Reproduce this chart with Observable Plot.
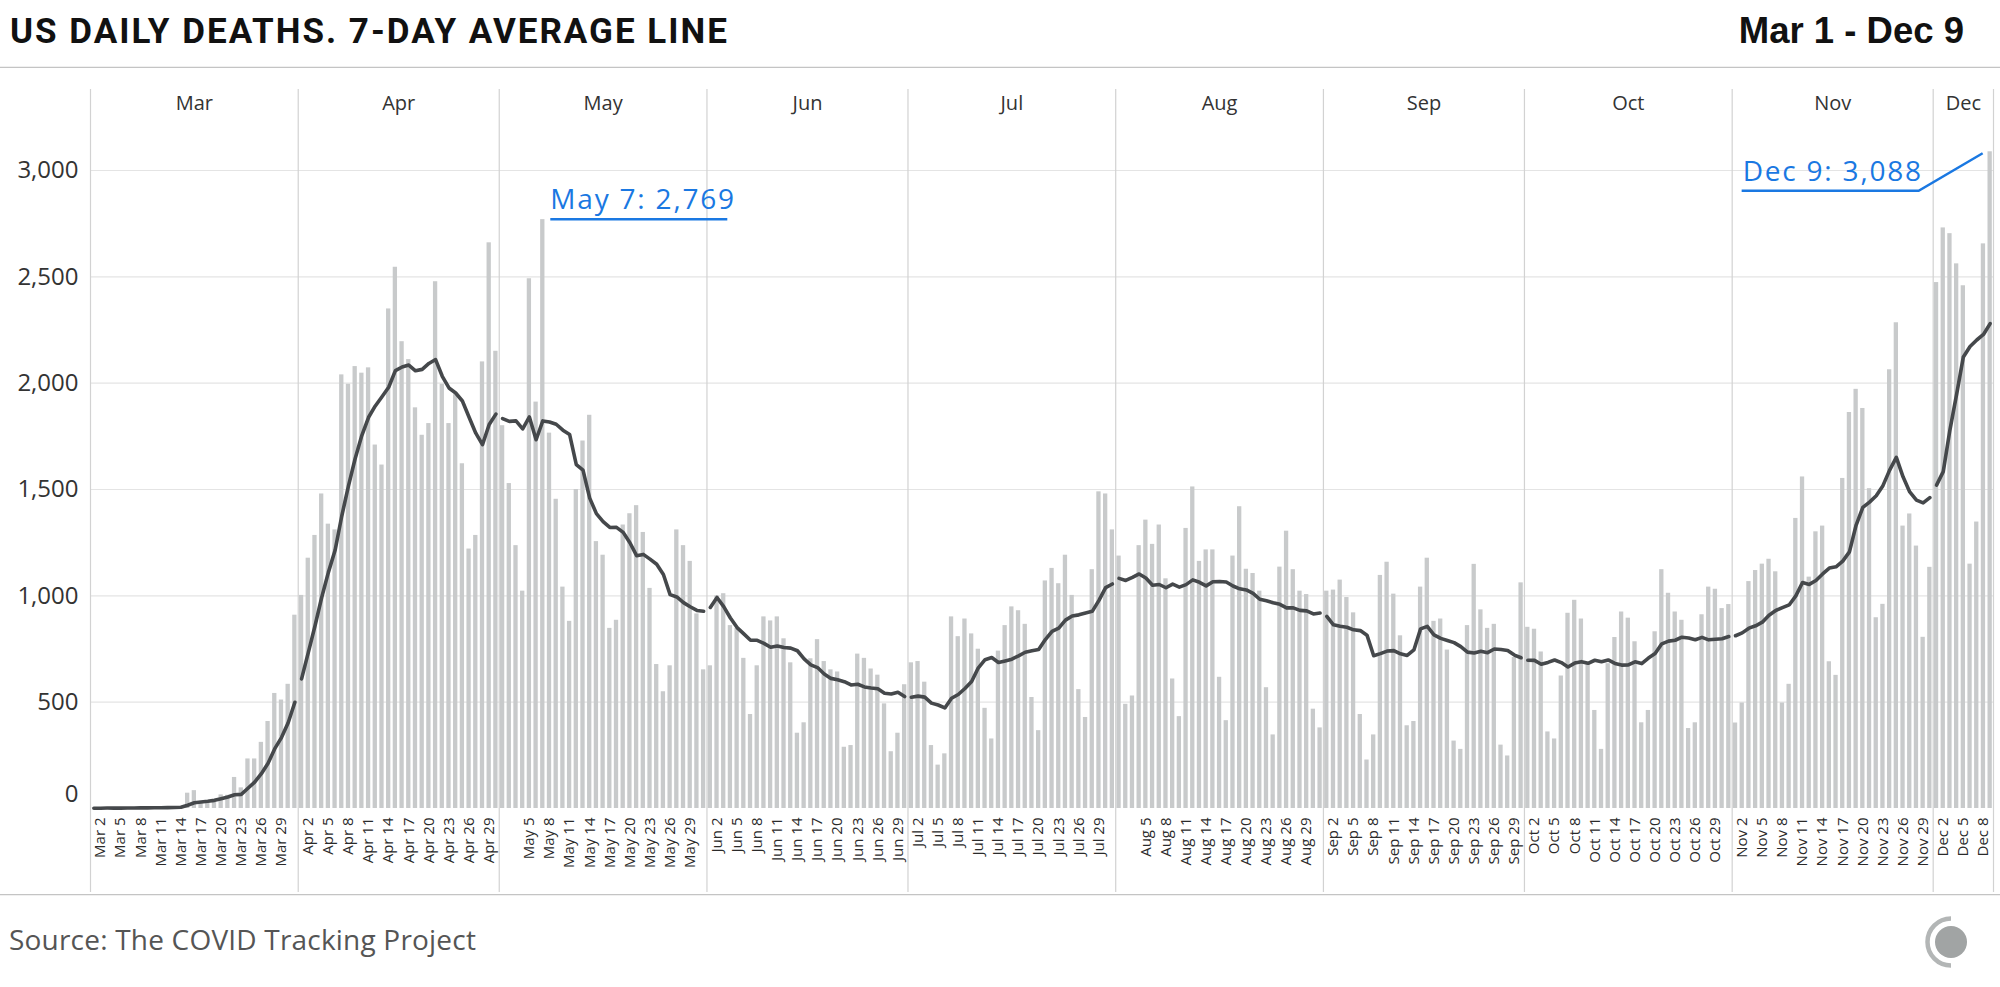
<!DOCTYPE html>
<html>
<head>
<meta charset="utf-8">
<script src="https://cdn.jsdelivr.net/npm/d3@7"></script>
<script src="https://cdn.jsdelivr.net/npm/@observablehq/plot@0.6"></script>
<style>
  html, body { margin: 0; padding: 0; background: #fff; }
  #wrap { position: relative; width: 2000px; height: 987px; overflow: hidden; background: #fff; }
  svg { display: block; }
</style>
</head>
<body>
<div id="wrap">
  <svg id="header" width="2000" height="68">
    <text x="10" y="43" font-family="Roboto" font-weight="700" font-size="35" fill="#111" letter-spacing="2">US DAILY DEATHS. 7-DAY AVERAGE LINE</text>
    <text x="1964" y="43" text-anchor="end" font-family="Liberation Sans, Arial" font-weight="700" font-size="36.5" fill="#111">Mar 1 - Dec 9</text>
    <line x1="0" x2="2000" y1="67.5" y2="67.5" stroke="#c4c4c4" stroke-width="1.5"/>
  </svg>
  <div id="chart"></div>
  <svg id="footer" width="2000" height="93">
    <line x1="0" x2="2000" y1="0.5" y2="0.5" stroke="#c4c4c4" stroke-width="1.5"/>
    <text x="9" y="56" font-family="Open Sans" font-size="28" fill="#555" letter-spacing="0.2">Source: The COVID Tracking Project</text>
    <path d="M1951,24.5 A23.5,23.5 0 0 0 1951,71.5" fill="none" stroke="#b3b6b6" stroke-width="4.5"/>
    <circle cx="1951" cy="48" r="16" fill="#a1a4a4"/>
  </svg>
</div>
<script>
// ---- Data: US daily deaths (COVID Tracking Project), 2020 ----
const monthNames = ["Mar", "Apr", "May", "Jun", "Jul", "Aug", "Sep", "Oct", "Nov", "Dec"];

const marDeaths = [1, 2, 3, 2, 2, 3, 3, 4, 4, 5, 6, 5, 8, 9, 72, 84, 30, 30, 35, 64, 62, 146, 97, 233, 233, 311, 409, 541, 510, 584, 909];
const aprDeaths = [1002, 1177, 1284, 1479, 1337, 1310, 2039, 1995, 2078, 2047, 2072, 1709, 1615, 2349, 2545, 2195, 2111, 1884, 1755, 1810, 2477, 1995, 1810, 1946, 1621, 1220, 1284, 2100, 2660, 2150];
const mayDeaths = [1800, 1528, 1236, 1022, 2491, 1911, 2769, 1765, 1454, 1041, 880, 1500, 1728, 1849, 1255, 1191, 847, 885, 1333, 1386, 1424, 1298, 1035, 677, 549, 671, 1310, 1236, 1162, 915, 652];
const junDeaths = [671, 1000, 1010, 860, 847, 706, 442, 671, 901, 882, 901, 798, 685, 354, 403, 704, 794, 691, 652, 642, 288, 296, 726, 706, 656, 627, 492, 267, 354, 582];
const julDeaths = [685, 691, 594, 296, 204, 257, 901, 808, 891, 821, 749, 471, 327, 740, 860, 948, 930, 866, 522, 366, 1070, 1129, 1057, 1191, 1002, 559, 428, 1123, 1489, 1479, 1310];
const augDeaths = [1187, 490, 529, 1236, 1356, 1242, 1333, 1080, 609, 432, 1317, 1512, 1162, 1216, 1216, 617, 413, 1187, 1419, 1125, 1105, 1022, 568, 346, 1135, 1304, 1123, 1022, 1006, 467, 379];
const sepDeaths = [1022, 1027, 1074, 992, 920, 442, 228, 346, 1096, 1158, 1008, 812, 389, 409, 1041, 1177, 880, 891, 745, 317, 278, 860, 1148, 934, 847, 866, 298, 247, 710, 1061];
const octDeaths = [852, 843, 736, 360, 327, 623, 918, 979, 891, 681, 461, 278, 681, 804, 924, 895, 784, 403, 461, 831, 1123, 1012, 924, 885, 376, 403, 911, 1041, 1031, 940, 959];
const novDeaths = [402, 496, 1067, 1119, 1149, 1172, 1113, 496, 584, 1364, 1559, 1088, 1301, 1328, 690, 626, 1552, 1862, 1971, 1881, 1504, 897, 960, 2063, 2284, 1328, 1385, 1234, 805, 1134];
const decDeaths = [2473, 2730, 2703, 2561, 2458, 1149, 1347, 2655, 3088];

const yTicks = [0, 500, 1000, 1500, 2000, 2500, 3000];

const tickLabels = [
  "Mar 2", "Mar 5", "Mar 8", "Mar 11", "Mar 14", "Mar 17", "Mar 20", "Mar 23", "Mar 26", "Mar 29",
  "Apr 2", "Apr 5", "Apr 8", "Apr 11", "Apr 14", "Apr 17", "Apr 20", "Apr 23", "Apr 26", "Apr 29",
  "May 5", "May 8", "May 11", "May 14", "May 17", "May 20", "May 23", "May 26", "May 29",
  "Jun 2", "Jun 5", "Jun 8", "Jun 11", "Jun 14", "Jun 17", "Jun 20", "Jun 23", "Jun 26", "Jun 29",
  "Jul 2", "Jul 5", "Jul 8", "Jul 11", "Jul 14", "Jul 17", "Jul 20", "Jul 23", "Jul 26", "Jul 29",
  "Aug 5", "Aug 8", "Aug 11", "Aug 14", "Aug 17", "Aug 20", "Aug 23", "Aug 26", "Aug 29",
  "Sep 2", "Sep 5", "Sep 8", "Sep 11", "Sep 14", "Sep 17", "Sep 20", "Sep 23", "Sep 26", "Sep 29",
  "Oct 2", "Oct 5", "Oct 8", "Oct 11", "Oct 14", "Oct 17", "Oct 20", "Oct 23", "Oct 26", "Oct 29",
  "Nov 2", "Nov 5", "Nov 8", "Nov 11", "Nov 14", "Nov 17", "Nov 20", "Nov 23", "Nov 26", "Nov 29",
  "Dec 2", "Dec 5", "Dec 8"
];

const annotationDays = ["May 7", "Dec 9"];
const annotationLabels = ["May 7: 2,769", "Dec 9: 3,088"];

// ---- Build table ----
const monthArrays = [marDeaths, aprDeaths, mayDeaths, junDeaths, julDeaths, augDeaths, sepDeaths, octDeaths, novDeaths, decDeaths];
const rows = [];
monthArrays.forEach((vals, mi) => {
  vals.forEach((v, i) => {
    const d = new Date(Date.UTC(2020, 2 + mi, i + 1));
    rows.push({date: d, next: d3.utcDay.offset(d, 1), noon: d3.utcHour.offset(d, 12), month: monthNames[mi], value: v});
  });
});
// trailing 7-day average of the daily values
rows.forEach((r, i) => { r.avg = d3.mean(rows.slice(Math.max(0, i - 6), i + 1), d => d.value); });

const parseDay = d3.utcParse("%b %d %Y");
const noonOf = s => d3.utcHour.offset(parseDay(s + " 2020"), 12);

const monthInfo = monthNames.map((m, mi) => {
  const start = new Date(Date.UTC(2020, 2 + mi, 1));
  const end = mi < monthNames.length - 1 ? new Date(Date.UTC(2020, 3 + mi, 1)) : d3.utcDay.offset(start, decDeaths.length);
  return {name: m, start, end, mid: new Date((+start + +end) / 2)};
});
const boundaries = [monthInfo[0].start, ...monthInfo.map(d => d.end)];
const ticks = tickLabels.map(l => ({label: l, x: noonOf(l)}));
const annos = annotationDays.map((d, i) => {
  const r = rows.find(r => +r.noon === +noonOf(d));
  return {x: r.noon, y: r.value, label: annotationLabels[i], leader: i === 1};
});

const blue = "#1a78e2";
function annotationMark(index, scales) {
  const g = d3.create("svg:g").attr("text-anchor", "start");
  for (const a of annos) {
    const bx = scales.x(a.x), by = scales.y(a.y);
    let tx, uy;
    if (!a.leader) {
      uy = by; tx = bx + 8;
      g.append("line").attr("x1", bx + 8).attr("x2", bx + 185).attr("y1", uy).attr("y2", uy)
        .attr("stroke", blue).attr("stroke-width", 2.5);
    } else {
      uy = by + 39.5; tx = bx - 247;
      g.append("polyline").attr("points", `${bx - 248},${uy} ${bx - 71},${uy} ${bx - 7},${by + 2}`)
        .attr("fill", "none").attr("stroke", blue).attr("stroke-width", 2.5);
    }
    g.append("text").attr("x", tx).attr("y", uy - 19.5).attr("dy", "0.35em")
      .attr("text-anchor", "start")
      .attr("font-family", "Open Sans").attr("font-size", 28).attr("letter-spacing", 1.8)
      .attr("fill", blue).text(a.label);
  }
  return g.node();
}

const chart = Plot.plot({
  width: 2000,
  height: 826,
  marginLeft: 90,
  marginRight: 7,
  marginTop: 102,
  marginBottom: 86,
  style: {fontFamily: "Open Sans", background: "white", overflow: "visible"},
  x: {type: "utc", domain: [monthInfo[0].start, monthInfo[monthInfo.length - 1].end], axis: null},
  y: {domain: [0, 3000], axis: null},
  marks: [
    Plot.ruleY(yTicks.filter(d => d > 0), {stroke: "#e4e4e4", strokeWidth: 1.2}),
    Plot.ruleX(boundaries, {stroke: "#d2d2d2", strokeWidth: 1.2, insetTop: -81, insetBottom: -84}),
    Plot.rectY(rows, {x1: "date", x2: "next", y: "value", insetLeft: 1.2, insetRight: 1.2, fill: "#c8cacb"}),
    Plot.line(rows, {x: "noon", y: "avg", z: "month", stroke: "#45484b", strokeWidth: 3.6, strokeLinejoin: "round", strokeLinecap: "round"}),
    annotationMark,
    Plot.text(yTicks.filter(d => d > 0), {y: d => d, text: d => d3.format(",")(d), frameAnchor: "left", lineAnchor: "middle", textAnchor: "end", dx: -12, fontSize: 24, fill: "#333"}),
    Plot.text([0], {y: d => d, text: d => d3.format(",")(d), frameAnchor: "left", lineAnchor: "middle", textAnchor: "end", dx: -12, dy: -14, fontSize: 24, fill: "#333"}),
    Plot.text(monthInfo, {x: "mid", text: "name", frameAnchor: "top", lineAnchor: "middle", dy: -67, fontSize: 20, fill: "#333"}),
    Plot.text(ticks, {x: "x", text: "label", frameAnchor: "bottom", lineAnchor: "middle", rotate: -90, textAnchor: "end", dy: 9, fontSize: 15, fill: "#2a2a2a"})
  ]
});
document.getElementById("chart").appendChild(chart);
</script>
</body>
</html>
